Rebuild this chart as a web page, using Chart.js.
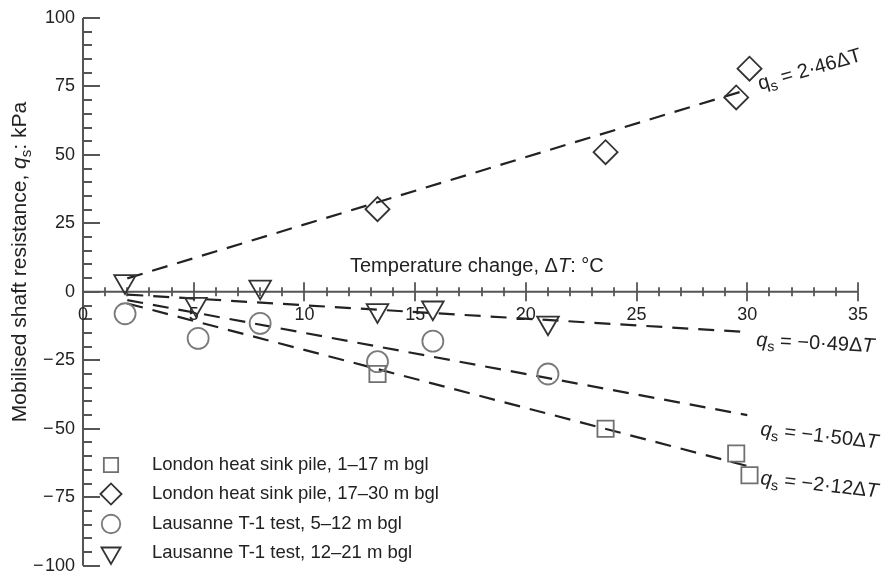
<!DOCTYPE html>
<html>
<head>
<meta charset="utf-8">
<script src="https://cdn.jsdelivr.net/npm/chart.js@4.4.1/dist/chart.umd.min.js"></script>
<style>
  html, body { margin: 0; padding: 0; background: #fff; }
  #wrap { width: 885px; height: 580px; }
</style>
</head>
<body>
<div id="wrap"><canvas id="c" width="885" height="580"></canvas></div>
<script>
// Measured shaft resistance against temperature change
const londonShallowX = [13.3, 23.6, 29.5, 30.1];
const londonShallowY = [-30, -50, -59, -67];
const londonDeepX = [13.3, 23.6, 29.5, 30.1];
const londonDeepY = [30.2, 51, 71, 81.5];
const lausanneShallowX = [1.9, 5.2, 8.0, 13.3, 15.8, 21.0];
const lausanneShallowY = [-8, -17, -11.5, -25.5, -18, -30];
const lausanneDeepX = [1.9, 5.1, 8.0, 13.3, 15.8, 21.0];
const lausanneDeepY = [3.8, -4.5, 1.8, -6.8, -5.8, -11.3];

const seriesNames = [
  'London heat sink pile, 1\u201317 m bgl',
  'London heat sink pile, 17\u201330 m bgl',
  'Lausanne T-1 test, 5\u201312 m bgl',
  'Lausanne T-1 test, 12\u201321 m bgl'
];

// Fitted lines q_s = k·ΔT
const fitSlopes = [2.46, -0.49, -1.50, -2.12];
const fitSlopeText = ['2\u00b746', '\u22120\u00b749', '\u22121\u00b750', '\u22122\u00b712'];
const fitRange = [2, 30];

// Axis ticks
const xTicks = [0, 5, 10, 15, 20, 25, 30, 35];
const xTickLabels = ['0', '5', '10', '15', '20', '25', '30', '35'];
const yTicks = [-100, -75, -50, -25, 0, 25, 50, 75, 100];
const yTickLabels = ['\u2212\u200a100', '\u2212\u200a75', '\u2212\u200a50', '\u2212\u200a25', '0', '25', '50', '75', '100'];

const FONT = '"Liberation Sans", Arial, Helvetica, sans-serif';
const TEXT = '#222';
const AXIS = '#555';

function pts(xs, ys) { return xs.map((x, i) => ({ x: x, y: ys[i] })); }

const markerStyles = [
  { pointStyle: 'rect',    radius: 11.5, rotation: 0,   color: '#707070' },
  { pointStyle: 'rectRot', radius: 12,   rotation: 0,   color: '#333' },
  { pointStyle: 'circle',  radius: 10.5, rotation: 0,   color: '#7a7a7a' },
  { pointStyle: 'triangle',radius: 12.5, rotation: 180, color: '#333' }
];
const markerData = [
  pts(londonShallowX, londonShallowY),
  pts(londonDeepX, londonDeepY),
  pts(lausanneShallowX, lausanneShallowY),
  pts(lausanneDeepX, lausanneDeepY)
];

const datasets = [];
markerData.forEach((d, i) => {
  const m = markerStyles[i];
  datasets.push({
    label: seriesNames[i],
    data: d,
    showLine: false,
    pointStyle: m.pointStyle,
    pointRadius: m.radius,
    pointRotation: m.rotation,
    pointBorderWidth: 1.8,
    pointBorderColor: m.color,
    pointBackgroundColor: 'rgba(0,0,0,0)',
    pointHoverRadius: m.radius,
    clip: false
  });
});
fitSlopes.forEach((k) => {
  datasets.push({
    label: 'fit',
    data: fitRange.map(x => ({ x: x, y: k * x })),
    showLine: true,
    borderColor: '#222',
    borderWidth: 2.2,
    borderDash: [16, 10],
    pointRadius: 0,
    clip: false
  });
});

function richWidth(ctx, parts, size) {
  let w = 0;
  for (const p of parts) {
    const s = p.sub ? size * 0.72 : size;
    ctx.font = (p.it ? 'italic ' : '') + s + 'px ' + FONT;
    w += ctx.measureText(p.t).width;
  }
  return w;
}
function drawRich(ctx, parts, x, y, angle, size, color) {
  ctx.save();
  ctx.translate(x, y);
  ctx.rotate(angle * Math.PI / 180);
  ctx.fillStyle = color;
  ctx.textBaseline = 'alphabetic';
  ctx.textAlign = 'left';
  let cx = 0;
  for (const p of parts) {
    const s = p.sub ? size * 0.72 : size;
    ctx.font = (p.it ? 'italic ' : '') + s + 'px ' + FONT;
    ctx.fillText(p.t, cx, p.sub ? size * 0.22 : 0);
    cx += ctx.measureText(p.t).width;
  }
  ctx.restore();
}

// Axes crossing at the origin, with minor ticks
const axesPlugin = {
  id: 'crossAxes',
  beforeDatasetsDraw(chart) {
    const ctx = chart.ctx;
    const xs = chart.scales.x, ys = chart.scales.y;
    const x0 = xs.getPixelForValue(0), y0 = ys.getPixelForValue(0);
    ctx.save();
    ctx.strokeStyle = AXIS;
    ctx.lineWidth = 2;
    ctx.beginPath();
    ctx.moveTo(x0, ys.getPixelForValue(-100));
    ctx.lineTo(x0, ys.getPixelForValue(100));
    ctx.moveTo(x0, y0);
    ctx.lineTo(xs.getPixelForValue(35), y0);
    ctx.stroke();

    ctx.lineWidth = 1.8;
    ctx.beginPath();
    for (let v = -100; v <= 100; v += 5) {
      const py = Math.round(ys.getPixelForValue(v));
      const len = (v % 25 === 0) ? 17 : 9;
      ctx.moveTo(x0, py);
      ctx.lineTo(x0 + len, py);
    }
    for (let v = 1; v <= 35; v += 1) {
      const px = Math.round(xs.getPixelForValue(v));
      const h = (v % 5 === 0) ? 9.5 : 4.5;
      ctx.moveTo(px, y0 - h);
      ctx.lineTo(px, y0 + h);
    }
    ctx.stroke();

    ctx.fillStyle = TEXT;
    ctx.font = '18px ' + FONT;
    ctx.textAlign = 'right';
    ctx.textBaseline = 'middle';
    yTicks.forEach((v, i) => ctx.fillText(yTickLabels[i], x0 - 8, ys.getPixelForValue(v)));
    ctx.textAlign = 'center';
    ctx.textBaseline = 'top';
    xTicks.forEach((v, i) => ctx.fillText(xTickLabels[i], xs.getPixelForValue(v), y0 + 14));
    ctx.restore();
  },
  afterDraw(chart) {
    const ctx = chart.ctx;

    // Axis titles
    const xt = [
      { t: 'Temperature change, \u0394' }, { t: 'T', it: true }, { t: ': \u00b0C' }
    ];
    drawRich(ctx, xt, 350, 272, 0, 20, TEXT);
    const yt = [
      { t: 'Mobilised shaft resistance, ' }, { t: 'q', it: true }, { t: 's', sub: true }, { t: ': kPa' }
    ];
    const ySize = 21;
    const yw = richWidth(ctx, yt, ySize);
    drawRich(ctx, yt, 26, 262 + yw / 2, -90, ySize, TEXT);

    // Fit equations
    const eqPos = [
      { x: 760, y: 90, a: -16 },
      { x: 756, y: 346, a: 3 },
      { x: 760, y: 435, a: 6.5 },
      { x: 760, y: 484, a: 6.5 }
    ];
    fitSlopes.forEach((k, i) => {
      const italic = i !== 0;
      const parts = [
        { t: 'q', it: italic }, { t: 's', sub: true },
        { t: ' = ' + fitSlopeText[i] + '\u0394' }, { t: 'T', it: italic }
      ];
      drawRich(ctx, parts, eqPos[i].x, eqPos[i].y, eqPos[i].a, 20, TEXT);
    });

    // Legend
    const rows = [465, 494, 524, 553];
    ctx.save();
    markerStyles.forEach((m, i) => {
      ctx.strokeStyle = m.color;
      ctx.fillStyle = 'rgba(0,0,0,0)';
      ctx.lineWidth = 1.8;
      Chart.helpers.drawPoint(ctx, {
        pointStyle: m.pointStyle,
        radius: m.radius * 0.88,
        rotation: m.rotation,
        borderWidth: 1.8
      }, 111, rows[i]);
      ctx.fillStyle = TEXT;
      ctx.font = '18.5px ' + FONT;
      ctx.textAlign = 'left';
      ctx.textBaseline = 'middle';
      ctx.fillText(seriesNames[i], 152, rows[i]);
    });
    ctx.restore();
  }
};

new Chart(document.getElementById('c'), {
  type: 'scatter',
  data: { datasets: datasets },
  options: {
    responsive: false,
    animation: false,
    devicePixelRatio: 1,
    layout: { padding: { left: 83, right: 27, top: 18, bottom: 9 } },
    scales: {
      x: { type: 'linear', min: 0, max: 35, display: false },
      y: { type: 'linear', min: -100, max: 100, display: false }
    },
    plugins: { legend: { display: false }, tooltip: { enabled: false } },
    events: []
  },
  plugins: [axesPlugin]
});
</script>
</body>
</html>
